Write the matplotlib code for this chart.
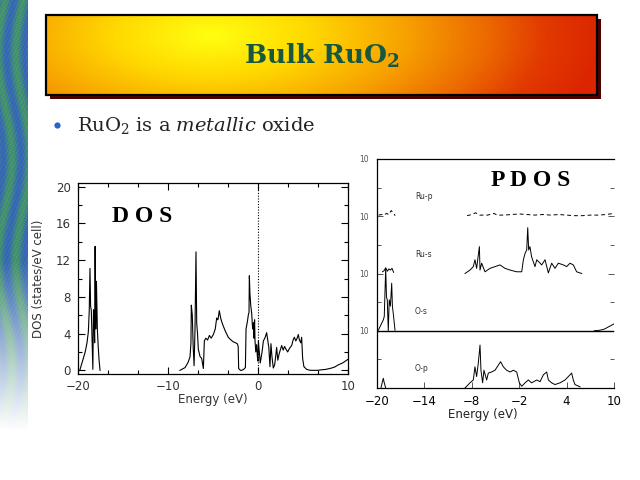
import numpy as np
import matplotlib
matplotlib.use('Agg')
import matplotlib.pyplot as plt
from matplotlib.colors import LinearSegmentedColormap
from matplotlib.patches import Rectangle
from matplotlib.ticker import MultipleLocator, FixedLocator, FixedFormatter

plt.rcParams['mathtext.fontset'] = 'dejavuserif'

# ---- total DOS (states/eV cell), NaN splits the line ----
dos_energy = [-19.8, -19.5, -19.2, -19.0, -18.85, -18.75, -18.67, -18.6, -18.52, -18.45, -18.35,
              -18.28, -18.22, -18.15, -18.1, -18.03, -17.95, -17.85, -17.75, -17.65, -17.55,
              np.nan,
              -8.67, -8.1, -7.75, -7.55, -7.45, -7.41, -7.3, -7.2, -7.1, -7.0, -6.89, -6.81, -6.72,
              -6.63, -6.44, -6.26, -6.07, -5.96, -5.8, -5.6, -5.4, -5.2, -4.96, -4.75, -4.59, -4.45,
              -4.3, -4.15, -4.0, -3.85, -3.6, -3.3, -3.0, -2.74, -2.5, -2.3, -2.2, -2.15, -1.95,
              -1.81, -1.6, -1.4, -1.33, -1.18, -1.08, -1.0, -0.96, -0.9, -0.8, -0.7, -0.6, -0.5,
              -0.44, -0.38, -0.33, -0.25, -0.15, -0.07, 0.0,
              0.04, 0.1, 0.25, 0.45, 0.6, 0.8, 0.96, 1.1, 1.2, 1.33, 1.44, 1.55, 1.7, 1.85, 2.0,
              2.07, 2.2, 2.35, 2.5, 2.63, 2.8, 2.95, 3.11, 3.3, 3.5, 3.74, 3.9, 4.04, 4.2, 4.35,
              4.48, 4.6, 4.75, 4.85, 4.96, 5.1, 5.41, 5.8, 6.15, 6.6, 7.0, 7.5, 8.0, 8.5, 8.93,
              9.4, 9.85, 10.0]
dos_total = [0.0, 1.0, 2.0, 3.0, 4.2, 6.5, 11.1, 7.0, 6.5, 4.0, 0.1,
             6.6, 6.3, 3.0, 13.5, 4.5, 9.7, 4.5, 2.5, 1.0, 0.0,
             np.nan,
             0.0, 0.3, 0.9, 1.5, 3.0, 7.1, 6.0, 2.5, 0.5, 4.5, 12.9, 5.1, 4.0,
             2.3, 1.5, 1.3, 0.2, 3.2, 3.5, 3.3, 3.8, 3.5, 3.9, 4.5, 5.7, 5.5,
             6.5, 5.7, 5.2, 4.8, 4.2, 3.6, 3.3, 3.1, 3.0, 2.9, 2.6, 0.2, 0.0,
             0.0, 0.1, 0.3, 4.5, 5.3, 6.0, 6.3, 10.3, 8.4, 7.0, 6.2, 4.5, 5.2,
             3.5, 5.5, 3.2, 2.0, 2.8, 1.5, 1.0,
             3.2, 2.5, 0.8, 2.0, 3.2, 3.6, 4.1, 3.2, 2.5, 0.4, 2.9, 1.5, 0.25, 0.6, 1.8,
             2.5, 1.1, 1.8, 2.3, 2.7, 2.2, 2.6, 2.3, 2.0, 2.4, 2.7, 3.3, 3.6, 3.2, 3.5,
             3.9, 3.3, 3.0, 3.6, 1.3, 0.4, 0.1, 0.0, 0.0, 0.0, 0.05, 0.1, 0.2, 0.35, 0.6,
             0.8, 1.1, 1.2]

# ---- projected DOS, one panel each (0-10 per panel) ----
rup_energy = [-19.8, -19.4, -19.1, -18.8, -18.5, -18.2, -17.9, -17.7, np.nan,
              -8.6, -8.0, -7.5, -7.0, -6.0, -5.2, -4.8, -4.0, -3.0, -2.0, -1.0, 0.0,
              1.0, 2.0, 3.0, 4.0, 5.0, 6.0, 7.0, 8.0, 9.0, 10.0]
rup_dos = [0.2, 0.3, 0.2, 0.5, 0.3, 1.0, 0.5, 0.1, np.nan,
           0.1, 0.3, 0.6, 0.2, 0.2, 0.5, 0.2, 0.2, 0.3, 0.4, 0.3, 0.2,
           0.3, 0.2, 0.3, 0.2, 0.1, 0.1, 0.2, 0.2, 0.3, 0.5]

rus_energy = [-19.3, -19.1, -18.9, -18.7, -18.5, -18.3, -18.1, -17.9, np.nan,
              -8.86, -8.23, -7.81, -7.6, -7.39, -7.04, -6.96, -6.75, -6.33, -5.7, -5.06,
              -4.43, -3.8, -3.16, -2.32, -1.68, -1.47, -1.26, -1.05, -0.92, -0.8, -0.64,
              -0.43, 0.0, 0.22, 0.85, 1.27, 1.69, 2.11, 2.53, 2.95, 3.59, 4.0, 4.43, 4.85,
              5.27, 5.9]
rus_dos = [0.3, 0.5, 1.0, 0.4, 0.8, 0.6, 0.9, 0.2, np.nan,
           0.0, 0.6, 1.2, 2.4, 0.9, 4.7, 0.6, 1.8, 0.3, 0.9, 1.2,
           1.5, 0.9, 0.6, 0.3, 0.3, 2.4, 3.5, 4.1, 8.0, 4.1, 4.7,
           2.9, 1.2, 2.4, 1.5, 2.4, 0.1, 1.8, 0.9, 1.8, 1.5, 1.2, 1.8, 1.5,
           0.3, 0.0]

os_energy = [-19.83, -19.2, -19.08, -18.9, -18.8, -18.7, -18.57, -18.45, -18.3, -18.14,
             -18.05, -17.9, -17.72, np.nan,
             7.5, 8.0, 8.4, 8.8, 9.2, 9.6, 10.0]
os_dos = [0.1, 1.9, 2.5, 10.9, 5.9, 5.4, 0.0, 5.4, 4.3, 8.3,
          4.3, 2.5, 0.1, np.nan,
          0.0, 0.05, 0.15, 0.3, 0.6, 0.9, 1.2]

op_energy = [-19.5, -19.3, -19.2, -19.1, -18.9, np.nan,
             -8.86, -8.23, -7.81, -7.6, -7.39, -7.18, -6.96, -6.84, -6.63, -6.46, -6.12,
             -5.91, -5.49, -5.06, -4.64, -4.35, -4.01, -3.59, -3.16, -2.74, -2.32, -1.98,
             -1.68, -1.26, -0.84, -0.43, 0.22, 0.64, 1.06, 1.48, 1.69, 2.11, 2.53, 3.16,
             3.8, 4.22, 4.64, 4.85, 5.06, 5.7]
op_dos = [0.0, 1.2, 1.7, 1.0, 0.0, np.nan,
          0.0, 0.9, 1.4, 3.7, 2.0, 4.3, 7.5, 3.1, 0.9, 3.1, 1.4,
          2.6, 2.8, 3.1, 4.0, 4.6, 3.7, 3.1, 2.8, 3.1, 2.8, 0.9,
          0.3, 0.9, 1.4, 0.9, 1.4, 1.1, 2.3, 2.8, 1.4, 0.9, 0.6, 0.9,
          1.4, 2.0, 2.6, 1.4, 0.6, 0.2]

pdos_names = ['O-p', 'O-s', 'Ru-s', 'Ru-p']
pdos_offsets = [0, 10, 20, 30]

W, H = 640, 480


def rect(l, t, r, b):
    return [l / W, 1 - b / H, (r - l) / W, (b - t) / H]


fig = plt.figure(figsize=(6.4, 4.8), dpi=100)
fig.patch.set_facecolor('white')

# slide background: textured stripe, title bar, bullet
bg = fig.add_axes([0, 0, 1, 1])
bg.set_xlim(0, W)
bg.set_ylim(H, 0)
bg.axis('off')

yy, xx = np.mgrid[0:440, 0:28].astype(float)
mix = (0.5 + 0.4 * np.sin(xx * 0.35 + 2.5 * np.sin(yy * 0.03))
       + 0.15 * np.sin(yy * 0.9 + xx * 1.7))
mix = np.clip(mix, 0, 1)[..., None]
blue = np.array([0.22, 0.42, 0.82])
green = np.array([0.30, 0.66, 0.42])
col = blue * (1 - mix) + green * mix
shade = (0.9 + 0.1 * np.sin(yy * 2.3 + xx * 0.8) * np.sin(xx * 1.9))[..., None]
col = np.clip(col * shade + 0.1 * (1 - shade), 0, 1)
fade = np.clip((430 - yy) / 170, 0, 1)[..., None]
stripe = 1 - (1 - col) * fade
bg.imshow(stripe, extent=(0, 28, 440, 0), aspect='auto', interpolation='bilinear', zorder=0)

bar_l, bar_t, bar_r, bar_b = 46, 15, 597, 95
bg.add_patch(Rectangle((bar_l + 4, bar_t + 4), bar_r - bar_l, bar_b - bar_t,
                       fc='#4e0000', ec='none', zorder=1))
uu, vv = np.meshgrid(np.linspace(0, 1, 400), np.linspace(0, 1, 60))
dist = np.sqrt(((uu - 0.3) / 0.55) ** 2 + ((vv - 0.25) / 1.6) ** 2)
fire = LinearSegmentedColormap.from_list(
    'fire', [(0.0, '#ffff10'), (0.25, '#ffd800'), (0.5, '#f7a000'),
             (0.7, '#ec6a00'), (0.85, '#e23a00'), (1.0, '#dc2400')])
bg.imshow(fire(np.clip(dist / 1.3, 0, 1)), extent=(bar_l, bar_r, bar_b, bar_t),
          aspect='auto', interpolation='bilinear', zorder=2)
bg.add_patch(Rectangle((bar_l, bar_t), bar_r - bar_l, bar_b - bar_t,
                       fill=False, ec='black', lw=1.6, zorder=3))
bg.text(322, 56, r'$\mathbf{Bulk\ RuO_2}$', fontsize=19, color='#17573f',
        ha='center', va='center', zorder=4)

bg.plot(57, 125, 'o', ms=4.5, color='#2a64c8', mec='none')
bg.text(77, 125, r'$\mathrm{RuO_2\ is\ a\ }\mathit{metallic}\mathrm{\ oxide}$',
        fontsize=14, color='#222222', ha='left', va='center')

label_font = dict(fontsize=8.5, color='#333333')

# ---- DOS panel ----
ax1 = fig.add_axes(rect(78, 183, 348, 374))
ax1.plot(dos_energy, dos_total, color='black', lw=0.8)
ax1.axvline(0, color='black', lw=0.8, ls=(0, (1, 1.5)))
ax1.set_xlim(-20, 10)
ax1.set_ylim(-0.4, 20.4)
ax1.xaxis.set_major_locator(FixedLocator([-20, -10, 0, 10]))
ax1.xaxis.set_minor_locator(MultipleLocator(10 / 3))
ax1.yaxis.set_major_locator(MultipleLocator(4))
ax1.yaxis.set_minor_locator(MultipleLocator(2))
ax1.tick_params(which='both', direction='in', top=True, right=True, width=0.8,
                labelsize=8.5, labelcolor='#333333')
ax1.tick_params(which='major', length=5)
ax1.tick_params(which='minor', length=3)
ax1.tick_params(axis='x', pad=4)
ax1.tick_params(axis='y', pad=5)
for s in ax1.spines.values():
    s.set_linewidth(0.9)
ax1.set_xlabel('Energy (eV)', **label_font)
ax1.set_ylabel('DOS (states/eV cell)', **label_font)
ax1.xaxis.set_label_coords(0.5, -0.1)
ax1.yaxis.set_label_coords(-0.125, 0.5)
ax1.text(-12.9, 16.8, 'D O S', fontsize=17, fontweight='bold',
         family='Liberation Serif', ha='center', va='center')

# ---- PDOS panel ----
ax2 = fig.add_axes(rect(377, 159, 614, 388))
curves = [(op_energy, op_dos, '-'), (os_energy, os_dos, '-'),
          (rus_energy, rus_dos, '-'), (rup_energy, rup_dos, (0, (4, 3)))]
for (e, d, ls), off, name in zip(curves, pdos_offsets, pdos_names):
    ax2.plot(e, np.array(d) + off, color='black', lw=0.7, ls=ls)
    ax2.text(-15.2, off + 3.4, name, fontsize=5.5, color='#333333', va='center')
ax2.axhline(10, color='black', lw=1.0)
ax2.set_xlim(-20, 10)
ax2.set_ylim(0, 40)
ax2.spines['right'].set_visible(False)
for s in ['left', 'top', 'bottom']:
    ax2.spines[s].set_linewidth(0.9)
ax2.xaxis.set_major_locator(FixedLocator([-20, -14, -8, -2, 4, 10]))
ax2.yaxis.set_major_locator(FixedLocator([10, 20, 30, 40]))
ax2.yaxis.set_major_formatter(FixedFormatter(['10', '10', '10', '10']))
ax2.yaxis.set_minor_locator(FixedLocator([5, 15, 25, 35]))
ax2.tick_params(which='both', direction='in', right=True, width=0.7, color='#555555')
ax2.tick_params(which='major', length=4)
ax2.tick_params(which='minor', length=3)
ax2.tick_params(axis='x', labelsize=8.5, labelcolor='black', pad=5)
ax2.tick_params(axis='y', labelsize=5.5, labelcolor='#555555', pad=6)
ax2.set_xlabel('Energy (eV)', fontsize=8.5, color='#222222')
ax2.xaxis.set_label_coords(0.447, -0.088)
ax2.text(-0.6, 36.2, 'P D O S', fontsize=17, fontweight='bold',
         family='Liberation Serif', ha='center', va='center')

fig.savefig('out.png', dpi=100, facecolor='white')
